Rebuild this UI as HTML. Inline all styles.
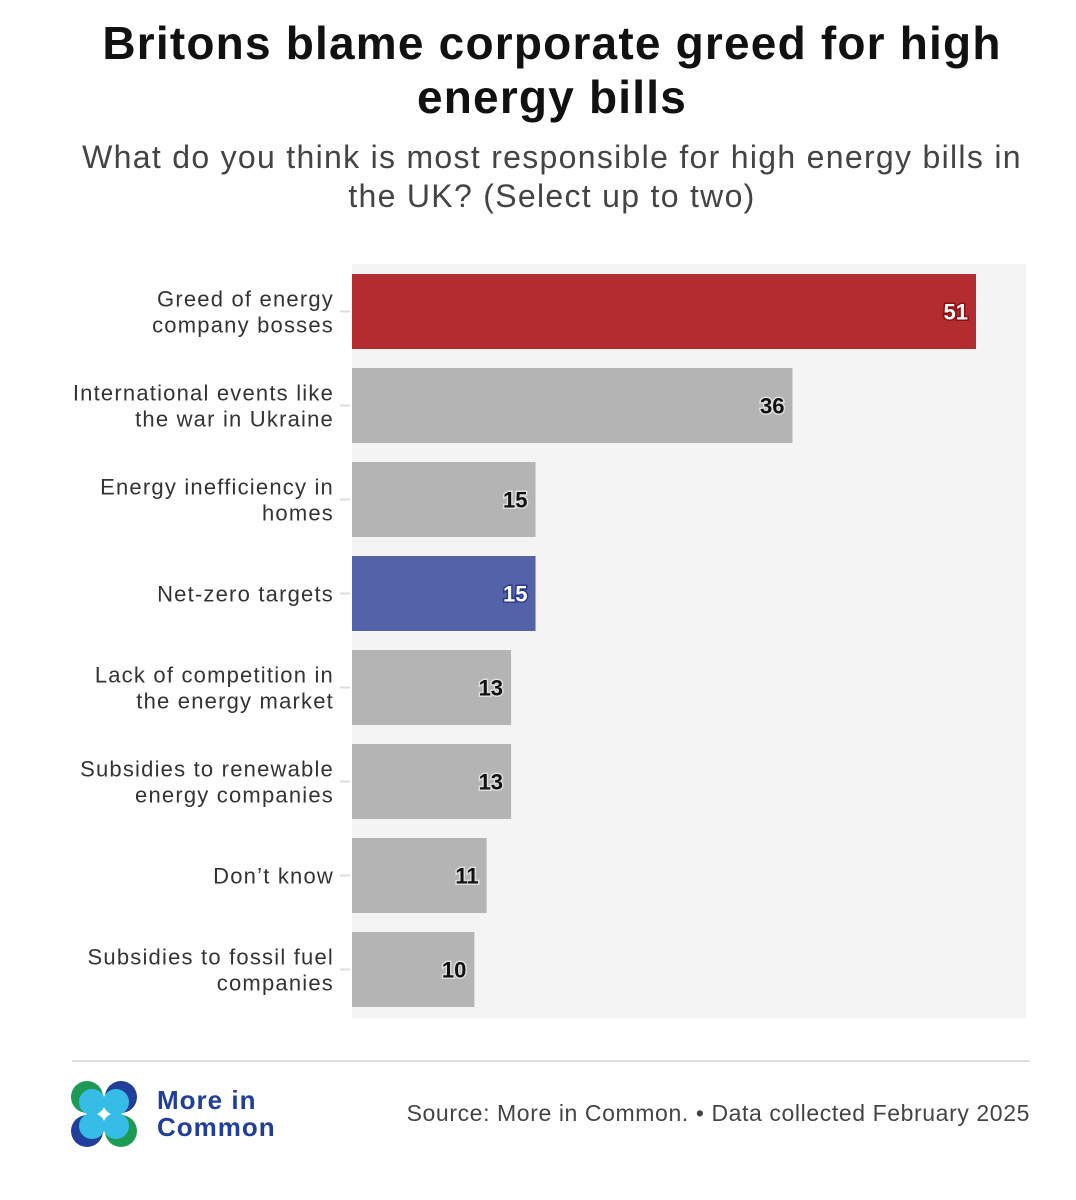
<!DOCTYPE html>
<html><head><meta charset="utf-8"><style>
body{margin:0;width:1076px;height:1200px;background:#fff;font-family:"Liberation Sans",sans-serif;overflow:hidden;position:relative}
.t{position:absolute;left:0;width:1076px;text-align:center}
</style></head><body>
<div class="t" style="top:16px;font-size:46px;font-weight:bold;line-height:54px;color:#111;letter-spacing:1.2px;left:14px">Britons blame corporate greed for high<br>energy bills</div>
<div class="t" style="top:138px;font-size:32px;line-height:39px;color:#444;letter-spacing:1.3px;left:14px">What do you think is most responsible for high energy bills in<br>the UK? (Select up to two)</div>
<svg id="chart" width="1076" height="1050" style="position:absolute;left:0;top:0"></svg>
<div style="position:absolute;left:72px;top:1060px;width:958px;height:2px;background:#ddd"></div>
<svg width="70" height="70" style="position:absolute;left:70px;top:1080px">
<circle cx="17" cy="17" r="16" fill="#1f9a55"/><circle cx="51" cy="17" r="16" fill="#213f9a"/><circle cx="17" cy="51" r="16" fill="#213f9a"/><circle cx="51" cy="51" r="16" fill="#1f9a55"/>
<circle cx="22" cy="22" r="13" fill="#35bde8"/><circle cx="46" cy="22" r="13" fill="#35bde8"/><circle cx="22" cy="46" r="13" fill="#35bde8"/><circle cx="46" cy="46" r="13" fill="#35bde8"/>
</svg>
<div style="position:absolute;left:157px;top:1087px;font-size:26px;font-weight:bold;line-height:27px;color:#213f9a;letter-spacing:1px">More in<br>Common</div>
<div style="position:absolute;right:46px;top:1100px;font-size:23px;color:#444;letter-spacing:0.6px">Source: More in Common. • Data collected February 2025</div>
<script>
const categories=[["Greed of energy","company bosses"],["International events like","the war in Ukraine"],["Energy inefficiency in","homes"],["Net-zero targets"],["Lack of competition in","the energy market"],["Subsidies to renewable","energy companies"],["Don\u2019t know"],["Subsidies to fossil fuel","companies"]];
const values=[51,36,15,15,13,13,11,10];
const colors=["#b22c30","#b4b4b4","#b4b4b4","#5463a8","#b4b4b4","#b4b4b4","#b4b4b4","#b4b4b4"];
const strokes=["#8a0f14","#ddd","#ddd","#2a3a8a","#ddd","#ddd","#ddd","#ddd"];
const textCols=["#fff","#111","#111","#fff","#111","#111","#111","#111"];
const svg=document.getElementById('chart');const NS='http://www.w3.org/2000/svg';
const x0=352,xScale=(976-352)/51;const yTop=264,step=94,barH=75;
const x=v=>x0+v*xScale;const y=i=>yTop+10+i*step;
function mk(t,a){const e=document.createElementNS(NS,t);for(const k in a)e.setAttribute(k,a[k]);svg.appendChild(e);return e;}
const bg=mk('rect',{x:x0,y:yTop,width:674,height:754,fill:'#f4f4f4'});


values.forEach((v,i)=>{
 const r=mk('rect',{x:x0,y:y(i),width:x(v)-x0,height:barH,fill:colors[i]});
 
 
 const tk=mk('line',{x1:340,x2:350,y1:y(i)+barH/2,y2:y(i)+barH/2,stroke:'#ddd','stroke-width':2});
 
 
 const lb=mk('text',{x:x(v)-8,y:y(i)+barH/2+8,'text-anchor':'end','font-size':22,'font-weight':'bold',fill:textCols[i],stroke:strokes[i],'stroke-width':3,'paint-order':'stroke','font-family':'Liberation Sans, sans-serif'});
 lb.textContent=v;
 
 
 const lines=categories[i];const cy=y(i)+barH/2;
 lines.forEach((s,j)=>{
  const t=mk('text',{x:334,y:cy+8+(j-(lines.length-1)/2)*26,'text-anchor':'end','font-size':22,fill:'#333','letter-spacing':'1.2','font-family':'Liberation Sans, sans-serif'});
  t.textContent=s;
  
  
 });
});
</script>
</body></html>
